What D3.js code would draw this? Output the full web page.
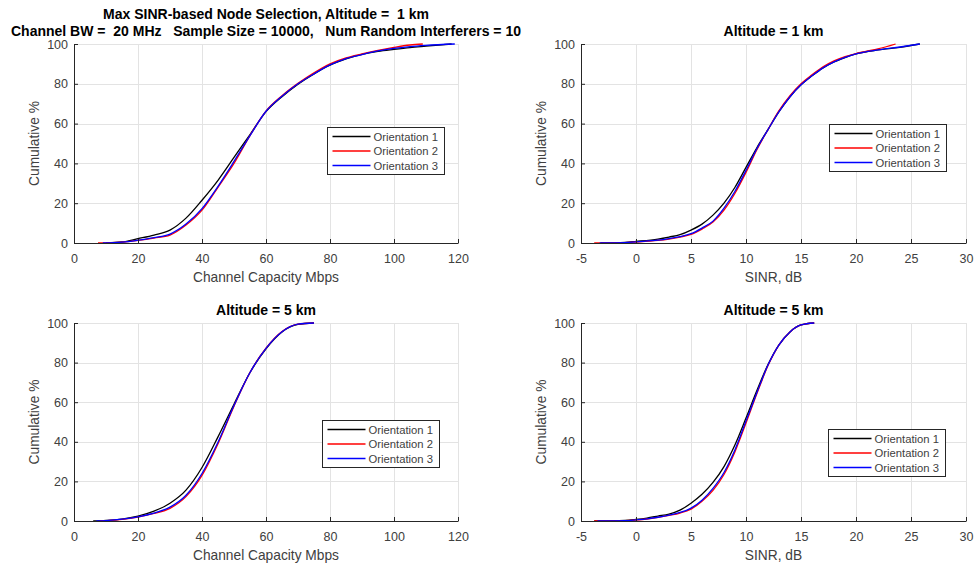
<!DOCTYPE html>
<html lang="en">
<head>
<meta charset="utf-8">
<script src="https://cdn.jsdelivr.net/npm/d3@7"></script>
<style>
  body { margin: 0; background: #fff; }
  text { font-family: "Liberation Sans", Arial, sans-serif; }
</style>
<title>Max SINR-based Node Selection</title>
</head>
<body>
<script>
// ---- data: [x, cumulative %] ----
var seriesNames = ["Orientation 1", "Orientation 2", "Orientation 3"];
var seriesColors = ["#000000", "#ff0000", "#0000ff"];

var capTicks = [0, 20, 40, 60, 80, 100, 120];
var sinrTicks = [-5, 0, 5, 10, 15, 20, 25, 30];
var pctTicks = [0, 20, 40, 60, 80, 100];

// Channel capacity, altitude 1 km
var cap1kmO1 = [[10,0],[15,0.5],[20,2.2],[25,4],[30,6.5],[35,12.5],[40,21.5],[45,31.5],[50,43],[55,54.5],[60,66],[65,73.5],[70,79.8],[75,85],[80,89.4],[85,92.5],[90,94.8],[95,96.3],[100,97.3],[105,98.2],[110,98.9],[118,100]];
var cap1kmO2 = [[7.5,0],[15,0.4],[20,1.3],[25,2.5],[30,4],[35,9],[40,16.5],[45,28],[50,40],[55,54],[60,66.3],[65,74],[70,80.2],[75,85.5],[80,90],[85,93],[90,95],[95,96.8],[100,98.3],[105,99.5],[109,100]];
var cap1kmO3 = [[9,0],[15,0.4],[20,1.4],[25,2.7],[30,4.5],[35,9.5],[40,17.3],[45,28.5],[50,41],[55,54],[60,66.2],[65,73.8],[70,80],[75,85],[80,89.5],[85,92.7],[90,94.7],[95,96.5],[100,97.8],[105,98.7],[110,99.3],[119,100]];

// SINR, altitude 1 km
var sinr1kmO1 = [[-3.2,0],[-1,0.3],[0,0.8],[2,2],[3,3],[4,4.2],[5,6.5],[6,9.5],[7,14],[8,20],[9,28],[10,38],[11,48],[12,57],[13,66],[14,73.5],[15,79.5],[16,84],[17,88],[18,91],[19,93.2],[20,95],[22,97],[24,98.3],[25.8,100]];
var sinr1kmO2 = [[-3.8,0],[-1,0.2],[0,0.5],[2,1.3],[3,2],[4,3],[5,4.3],[6,7],[7,10.5],[8,16.5],[9,25],[10,35.5],[11,47],[12,57],[13,66.5],[14,74],[15,80],[16,84.5],[17,88.5],[18,91.5],[19,93.7],[20,95.2],[22,97.5],[23.6,100]];
var sinr1kmO3 = [[-3.3,0],[-1,0.2],[0,0.6],[2,1.4],[3,2.2],[4,3.2],[5,4.7],[6,7.5],[7,11],[8,17.5],[9,26],[10,36.5],[11,47.5],[12,57],[13,66],[14,73.5],[15,79.5],[16,84],[17,88],[18,91],[19,93.3],[20,95],[22,97],[24,98.5],[25.8,100]];

// Channel capacity, altitude 5 km
var cap5kmO1 = [[6,0],[10,0.3],[15,1],[20,2.5],[25,5],[30,9],[35,15.6],[40,27],[45,42.5],[50,59],[55,75],[60,87],[65,95.5],[70,99.3],[75,100]];
var cap5kmO2 = [[8,0],[10,0.2],[15,0.8],[20,2],[25,3.8],[30,6.4],[35,12.3],[40,23],[45,39],[50,58],[55,75],[60,87.3],[65,95.7],[70,99.4],[75,100]];
var cap5kmO3 = [[7,0],[10,0.2],[15,0.9],[20,2.1],[25,4],[30,7],[35,13],[40,24],[45,39.8],[50,58.3],[55,75],[60,87.2],[65,95.6],[70,99.4],[75,100]];

// SINR, altitude 5 km
var sinr5kmO1 = [[-3.8,0],[-1,0.3],[0,0.8],[1,1.5],[2,2.5],[3,3.5],[4,5.5],[5,9],[6,13.5],[7,19.5],[8,27.5],[9,38.5],[10,52],[11,66],[12,79],[13,89],[14,95.5],[15,99],[16.2,100]];
var sinr5kmO2 = [[-3.8,0],[-1,0.2],[0,0.5],[1,1],[2,1.8],[3,2.8],[4,4],[5,6],[6,10],[7,15.5],[8,23.5],[9,35],[10,49.5],[11,64.5],[12,78.5],[13,89],[14,95.5],[15,99],[16.2,100]];
var sinr5kmO3 = [[-3.5,0],[-1,0.2],[0,0.6],[1,1.1],[2,1.9],[3,3],[4,4.3],[5,6.5],[6,10.5],[7,16.5],[8,24.5],[9,36],[10,50.5],[11,65],[12,78.8],[13,89],[14,95.5],[15,99],[16.2,100]];

// ---- layout ----
var w = 975, h = 563;
var axisColor = "#262626";
var textColor = "#404040";
var gridColor = "#e3e3e3";

var panels = [
  {box: [74, 44, 458, 243], xTicks: capTicks, xlabel: "Channel Capacity Mbps", title: null,
   series: [cap1kmO1, cap1kmO2, cap1kmO3], legend: [327, 127]},
  {box: [581, 44, 966, 243], xTicks: sinrTicks, xlabel: "SINR, dB", title: "Altitude = 1 km",
   series: [sinr1kmO1, sinr1kmO2, sinr1kmO3], legend: [829, 124]},
  {box: [74, 323, 458, 521], xTicks: capTicks, xlabel: "Channel Capacity Mbps", title: "Altitude = 5 km",
   series: [cap5kmO1, cap5kmO2, cap5kmO3], legend: [322, 420]},
  {box: [581, 323, 966, 521], xTicks: sinrTicks, xlabel: "SINR, dB", title: "Altitude = 5 km",
   series: [sinr5kmO1, sinr5kmO2, sinr5kmO3], legend: [828, 429]}
];

var svg = d3.select("body").append("svg")
  .attr("width", w)
  .attr("height", h);

panels.forEach(function(p) {
  var x0 = p.box[0], y0 = p.box[1], x1 = p.box[2], y1 = p.box[3];

  var xScale = d3.scaleLinear()
    .domain([p.xTicks[0], p.xTicks[p.xTicks.length - 1]])
    .range([x0, x1]);
  var yScale = d3.scaleLinear().domain([0, 100]).range([y1, y0]);

  var g = svg.append("g");

  // grid
  g.append("g").selectAll("line")
    .data(p.xTicks).enter().append("line")
    .attr("x1", function(d){ return Math.round(xScale(d)) + 0.5; })
    .attr("x2", function(d){ return Math.round(xScale(d)) + 0.5; })
    .attr("y1", y0).attr("y2", y1)
    .attr("stroke", gridColor).attr("stroke-width", 1);
  g.append("g").selectAll("line")
    .data(pctTicks).enter().append("line")
    .attr("y1", function(d){ return Math.round(yScale(d)) + 0.5; })
    .attr("y2", function(d){ return Math.round(yScale(d)) + 0.5; })
    .attr("x1", x0).attr("x2", x1)
    .attr("stroke", gridColor).attr("stroke-width", 1);

  // curves
  var line = d3.line()
    .x(function(d){ return xScale(d[0]); })
    .y(function(d){ return yScale(d[1]); })
    .curve(d3.curveMonotoneX);

  p.series.forEach(function(s, i) {
    g.append("path")
      .datum(s)
      .attr("d", line)
      .attr("fill", "none")
      .attr("stroke", seriesColors[i])
      .attr("stroke-width", 1.3);
  });

  // axes (ticks point inward, like MATLAB); plain hyphen for negatives
  var fmt = function(d){ return String(d); };
  var xAxis = d3.axisBottom(xScale).tickValues(p.xTicks).tickFormat(fmt)
    .tickSizeInner(-4).tickSizeOuter(0).tickPadding(11);
  var yAxis = d3.axisLeft(yScale).tickValues(pctTicks).tickFormat(fmt)
    .tickSizeInner(-4).tickSizeOuter(0).tickPadding(6);

  var gx = g.append("g")
    .attr("transform", "translate(0," + y1 + ")")
    .call(xAxis);
  var gy = g.append("g")
    .attr("transform", "translate(" + x0 + ",0)")
    .call(yAxis);

  [gx, gy].forEach(function(a) {
    a.select(".domain").attr("stroke", axisColor);
    a.selectAll(".tick line").attr("stroke", axisColor);
    a.selectAll(".tick text")
      .attr("fill", textColor)
      .style("font-size", "12.5px")
      .style("font-family", "'Liberation Sans', Arial, sans-serif");
  });

  // axis labels
  g.append("text")
    .attr("x", (x0 + x1) / 2)
    .attr("y", y1 + 38.5)
    .attr("text-anchor", "middle")
    .attr("fill", textColor)
    .style("font-size", "13.75px")
    .text(p.xlabel);

  g.append("text")
    .attr("transform", "translate(" + (x0 - 35) + "," + ((y0 + y1) / 2) + ") rotate(-90)")
    .attr("text-anchor", "middle")
    .attr("fill", textColor)
    .style("font-size", "13.75px")
    .text("Cumulative %");

  if (p.title) {
    g.append("text")
      .attr("x", (x0 + x1) / 2)
      .attr("y", y0 - 8)
      .attr("text-anchor", "middle")
      .style("font-size", "14px")
      .style("font-weight", "bold")
      .text(p.title);
  }

  // legend
  var lx = p.legend[0], ly = p.legend[1];
  var lg = g.append("g").attr("transform", "translate(" + (lx + 0.5) + "," + (ly + 0.5) + ")");
  lg.append("rect")
    .attr("width", 117).attr("height", 47)
    .attr("fill", "#fff")
    .attr("stroke", axisColor).attr("stroke-width", 1);
  seriesNames.forEach(function(name, i) {
    var yy = 9 + i * 14.5;
    lg.append("line")
      .attr("x1", 5).attr("x2", 43)
      .attr("y1", yy).attr("y2", yy)
      .attr("stroke", seriesColors[i]).attr("stroke-width", 1.3);
    lg.append("text")
      .attr("x", 46).attr("y", yy + 4)
      .attr("fill", textColor)
      .style("font-size", "11.25px")
      .text(name);
  });
});

// main title for the first panel
svg.append("text")
  .attr("x", 266).attr("y", 19)
  .attr("text-anchor", "middle")
  .style("font-size", "14px")
  .style("font-weight", "bold")
  .style("white-space", "pre")
  .text("Max SINR-based Node Selection, Altitude =  1 km");
svg.append("text")
  .attr("x", 266).attr("y", 36)
  .attr("text-anchor", "middle")
  .style("font-size", "14px")
  .style("font-weight", "bold")
  .style("white-space", "pre")
  .text("Channel BW =  20 MHz   Sample Size = 10000,   Num Random Interferers = 10");
</script>
</body>
</html>
